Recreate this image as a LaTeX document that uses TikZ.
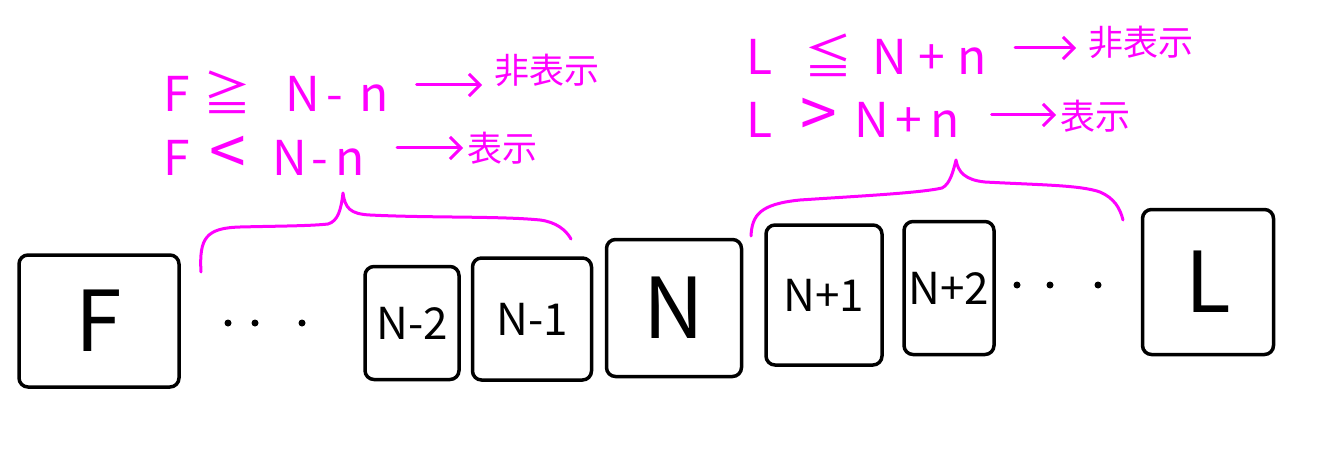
\documentclass[tikz,border=0pt]{standalone}
\usepackage{fontspec}
\setmainfont{Noto Sans CJK JP}
\usetikzlibrary{arrows.meta, positioning}
\definecolor{pen}{HTML}{FF00FF}
\newcommand{\relbig}[1]{{\fontsize{66}{48}\selectfont #1}}

\begin{document}
\begin{tikzpicture}[x=1pt, y=-1pt,
  cell/.style={draw, line width=3.5pt, rounded corners=9pt, inner sep=0pt, line join=round},
  big/.style={font=\fontsize{84}{84}\selectfont},
  mid/.style={font=\fontsize{44}{44}\selectfont},
  rule/.style={text=pen, inner sep=0pt, anchor=west, font=\fontsize{48}{48}\selectfont},
  word/.style={text=pen, inner sep=0pt, anchor=west, font=\fontsize{35}{35}\selectfont},
  arr/.style={draw=pen, line width=3pt, line cap=round, -{Straight Barb[length=11pt, width=22pt, line width=3pt]}},
  brace/.style={draw=pen, line width=3pt, line cap=round, line join=round}]

  \useasboundingbox (0,0) rectangle (1340,449);

  %% row of pages
  \node[cell, big, minimum width=160pt, minimum height=132pt] (F) at (99,321) {F};
  \node[cell, mid, minimum width=94pt, minimum height=113pt] (Nm2) at (412,323) {N-2};
  \node[cell, mid, minimum width=119pt, minimum height=122pt] (Nm1) at (532,319) {N-1};
  \node[cell, big, minimum width=135pt, minimum height=137pt] (N) at (674,308) {N};
  \node[cell, mid, minimum width=116pt, minimum height=140pt] (Np1) at (824,295) {N+1};
  \node[cell, mid, minimum width=90pt, minimum height=133pt] (Np2) at (949,288) {N+2};
  \node[cell, big, minimum width=131pt, minimum height=145pt] (L) at (1208,282) {L};

  %% dots
  \foreach \x in {228,255,302}{
    \fill (\x,323) circle (3.5pt);
  }
  \foreach \x in {1017,1050,1098}{
    \fill (\x,285) circle (3.5pt);
  }

  %% braces
  \draw[brace] (201,272) .. controls (199,238) and (206,228) .. (240,227)
    .. controls (280,226) and (310,226) .. (328,224)
    .. controls (338,221) and (341,210) .. (343,193)
    .. controls (345,208) and (350,214) .. (370,215)
    .. controls (430,218) and (500,216) .. (540,220)
    .. controls (556,222) and (566,230) .. (571,239);
  \draw[brace] (751,236) .. controls (752,215) and (760,204) .. (800,200)
    .. controls (860,196) and (920,193) .. (942,188)
    .. controls (950,184) and (953,172) .. (956,160)
    .. controls (958,172) and (965,180) .. (985,182)
    .. controls (1040,185) and (1080,185) .. (1100,192)
    .. controls (1114,198) and (1120,208) .. (1123,220);

  %% rules for F
  \node[rule] (fhide) at (163,92) {F\hspace{14pt}≧\hspace{34pt}N\hspace{6pt}-\hspace{16pt}n};
  \node[word] (fhidew) at (494,70) {非表示};
  \draw[arr, shorten <=28pt, shorten >=12pt] ([yshift=7pt]fhide.east) -- ([yshift=7pt]fhide.east -| fhidew.west);
  \node[rule] (fshow) at (163,156) {F\hspace{20pt}\relbig{<}\hspace{26pt}N\hspace{4pt}-\hspace{8pt}n};
  \node[word] (fshoww) at (467,148) {表示};
  \draw[arr, shorten <=32pt, shorten >=4pt] ([yshift=8pt]fshow.east) -- ([yshift=8pt]fshow.east -| fshoww.west);

  %% rules for L
  \node[rule] (lhide) at (746,55) {L\hspace{32pt}≦\hspace{20pt}N\hspace{12pt}+\hspace{12pt}n};
  \node[word] (lhidew) at (1088,42) {非表示};
  \draw[arr, shorten <=28pt, shorten >=12pt] ([yshift=7pt]lhide.east) -- ([yshift=7pt]lhide.east -| lhidew.west);
  \node[rule] (lshow) at (746,118) {L\hspace{28pt}\relbig{>}\hspace{18pt}N\hspace{6pt}+\hspace{8pt}n};
  \node[word] (lshoww) at (1060,116) {表示};
  \draw[arr, shorten <=32pt, shorten >=4pt] ([yshift=3pt]lshow.east) -- ([yshift=3pt]lshow.east -| lshoww.west);

\end{tikzpicture}
\end{document}
